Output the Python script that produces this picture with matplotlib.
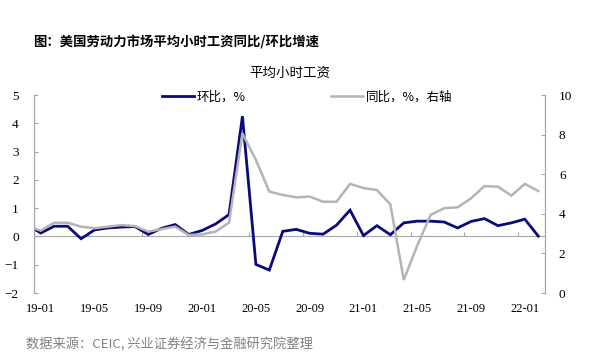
import numpy as np
import pandas as pd
import matplotlib
matplotlib.use("Agg")
import matplotlib.pyplot as plt

# tick labels use the serif face; Chinese texts name their own family below
plt.rcParams["font.family"] = ["Liberation Serif", "DejaVu Serif"]
CJK = ["Noto Sans CJK SC", "DejaVu Sans"]

# ---------------------------------------------------------------------------
# Data: US average hourly earnings, 2018-12 .. 2022-02 (2018-12 is clipped at the left edge)
# ---------------------------------------------------------------------------
months = pd.period_range("2018-12", "2022-02", freq="M")

# month-on-month, %, left axis
mom = [0.42,
       0.12, 0.36, 0.36, -0.08, 0.23, 0.30, 0.33, 0.35, 0.07, 0.29, 0.42, 0.07,
       0.21, 0.44, 0.77, 4.25, -0.99, -1.19, 0.18, 0.25, 0.11, 0.08, 0.40, 0.93,
       0.03, 0.38, 0.06, 0.48, 0.54, 0.54, 0.51, 0.30, 0.53, 0.63, 0.38, 0.48,
       0.61, 0.01]

# year-on-year, %, right axis
yoy = [3.39,
       3.15, 3.55, 3.55, 3.35, 3.27, 3.35, 3.43, 3.38, 3.10, 3.23, 3.35, 2.93,
       2.96, 3.10, 3.55, 8.06, 6.72, 5.12, 4.95, 4.83, 4.87, 4.61, 4.61, 5.51,
       5.30, 5.20, 4.48, 0.66, 2.40, 3.95, 4.28, 4.33, 4.78, 5.40, 5.37, 4.92,
       5.51, 5.15]

left_ticks = [-2, -1, 0, 1, 2, 3, 4, 5]
right_ticks = [0, 2, 4, 6, 8, 10]

W, H = 598, 357
NAVY = "#0a0a7a"
GREY = "#b4b4b4"
AXIS = "#a6a6a6"

x = np.arange(len(months)) - 1  # 19-01 -> 0
labels = [m.strftime("%y-%m") for m in months]

fig = plt.figure(figsize=(W / 100, H / 100), dpi=100)
ax = fig.add_axes([34 / W, 1 - 293 / H, (545 - 34) / W, (293 - 95) / H])
ax2 = ax.twinx()

ax.plot(x, mom, color=NAVY, lw=2.0, solid_joinstyle="miter", label="环比，%")
ax2.plot(x, yoy, color=GREY, lw=1.8, solid_joinstyle="miter", label="同比，%，右轴")

ax.set_xlim(-0.5, 37.5)
ax.set_ylim(-2, 5)
ax2.set_ylim(0, 10)

# x labels at every 4th month, ticks drawn on the zero line between categories
ax.set_xticks(x[1::4])
ax.set_xticklabels(labels[1::4])
ax.tick_params(axis="x", length=0, pad=7, labelsize=9)

sec = ax.secondary_xaxis(2 / 7)
sec.set_xticks(x[1::4] - 0.5)
sec.set_xticklabels([])
sec.tick_params(axis="x", direction="in", length=3, color=AXIS, width=0.8)
sec.spines["bottom"].set_color(AXIS)
sec.spines["bottom"].set_linewidth(0.8)
sec.set_zorder(1)

ax.set_yticks(left_ticks)
ax.tick_params(axis="y", direction="in", length=3, color=AXIS, width=0.8, pad=11,
               labelsize=9.5)
ax2.set_yticks(right_ticks)
ax2.tick_params(axis="y", direction="in", length=3, color=AXIS, width=0.8, pad=10,
                labelsize=9.5)

for a in (ax, ax2):
    a.spines["top"].set_visible(False)
    a.spines["bottom"].set_visible(False)
    a.spines["left"].set_color(AXIS)
    a.spines["right"].set_color(AXIS)
    a.spines["left"].set_linewidth(0.8)
    a.spines["right"].set_linewidth(0.8)
    a.patch.set_visible(False)

h1, l1 = ax.get_legend_handles_labels()
h2, l2 = ax2.get_legend_handles_labels()
fig.legend(h1 + h2, l1 + l2, ncol=2, frameon=False, loc="center",
           bbox_to_anchor=(307 / W, 1 - 97 / H), prop={"size": 9, "family": CJK},
           handlelength=2.6, handletextpad=0.2, columnspacing=6.8, borderpad=0)

fig.text(33 / W, 1 - 42 / H, "图：美国劳动力市场平均小时工资同比/环比增速",
         fontsize=9.6, fontweight="bold", va="center", ha="left", family=CJK)
fig.text(290 / W, 1 - 73 / H, "平均小时工资", fontsize=9.7, va="center", ha="center",
         family=CJK)
fig.text(26 / W, 1 - 345 / H, "数据来源：CEIC, 兴业证券经济与金融研究院整理",
         fontsize=9.5, color="#808080", va="center", ha="left", family=CJK)

fig.savefig("out.png", dpi=100)
